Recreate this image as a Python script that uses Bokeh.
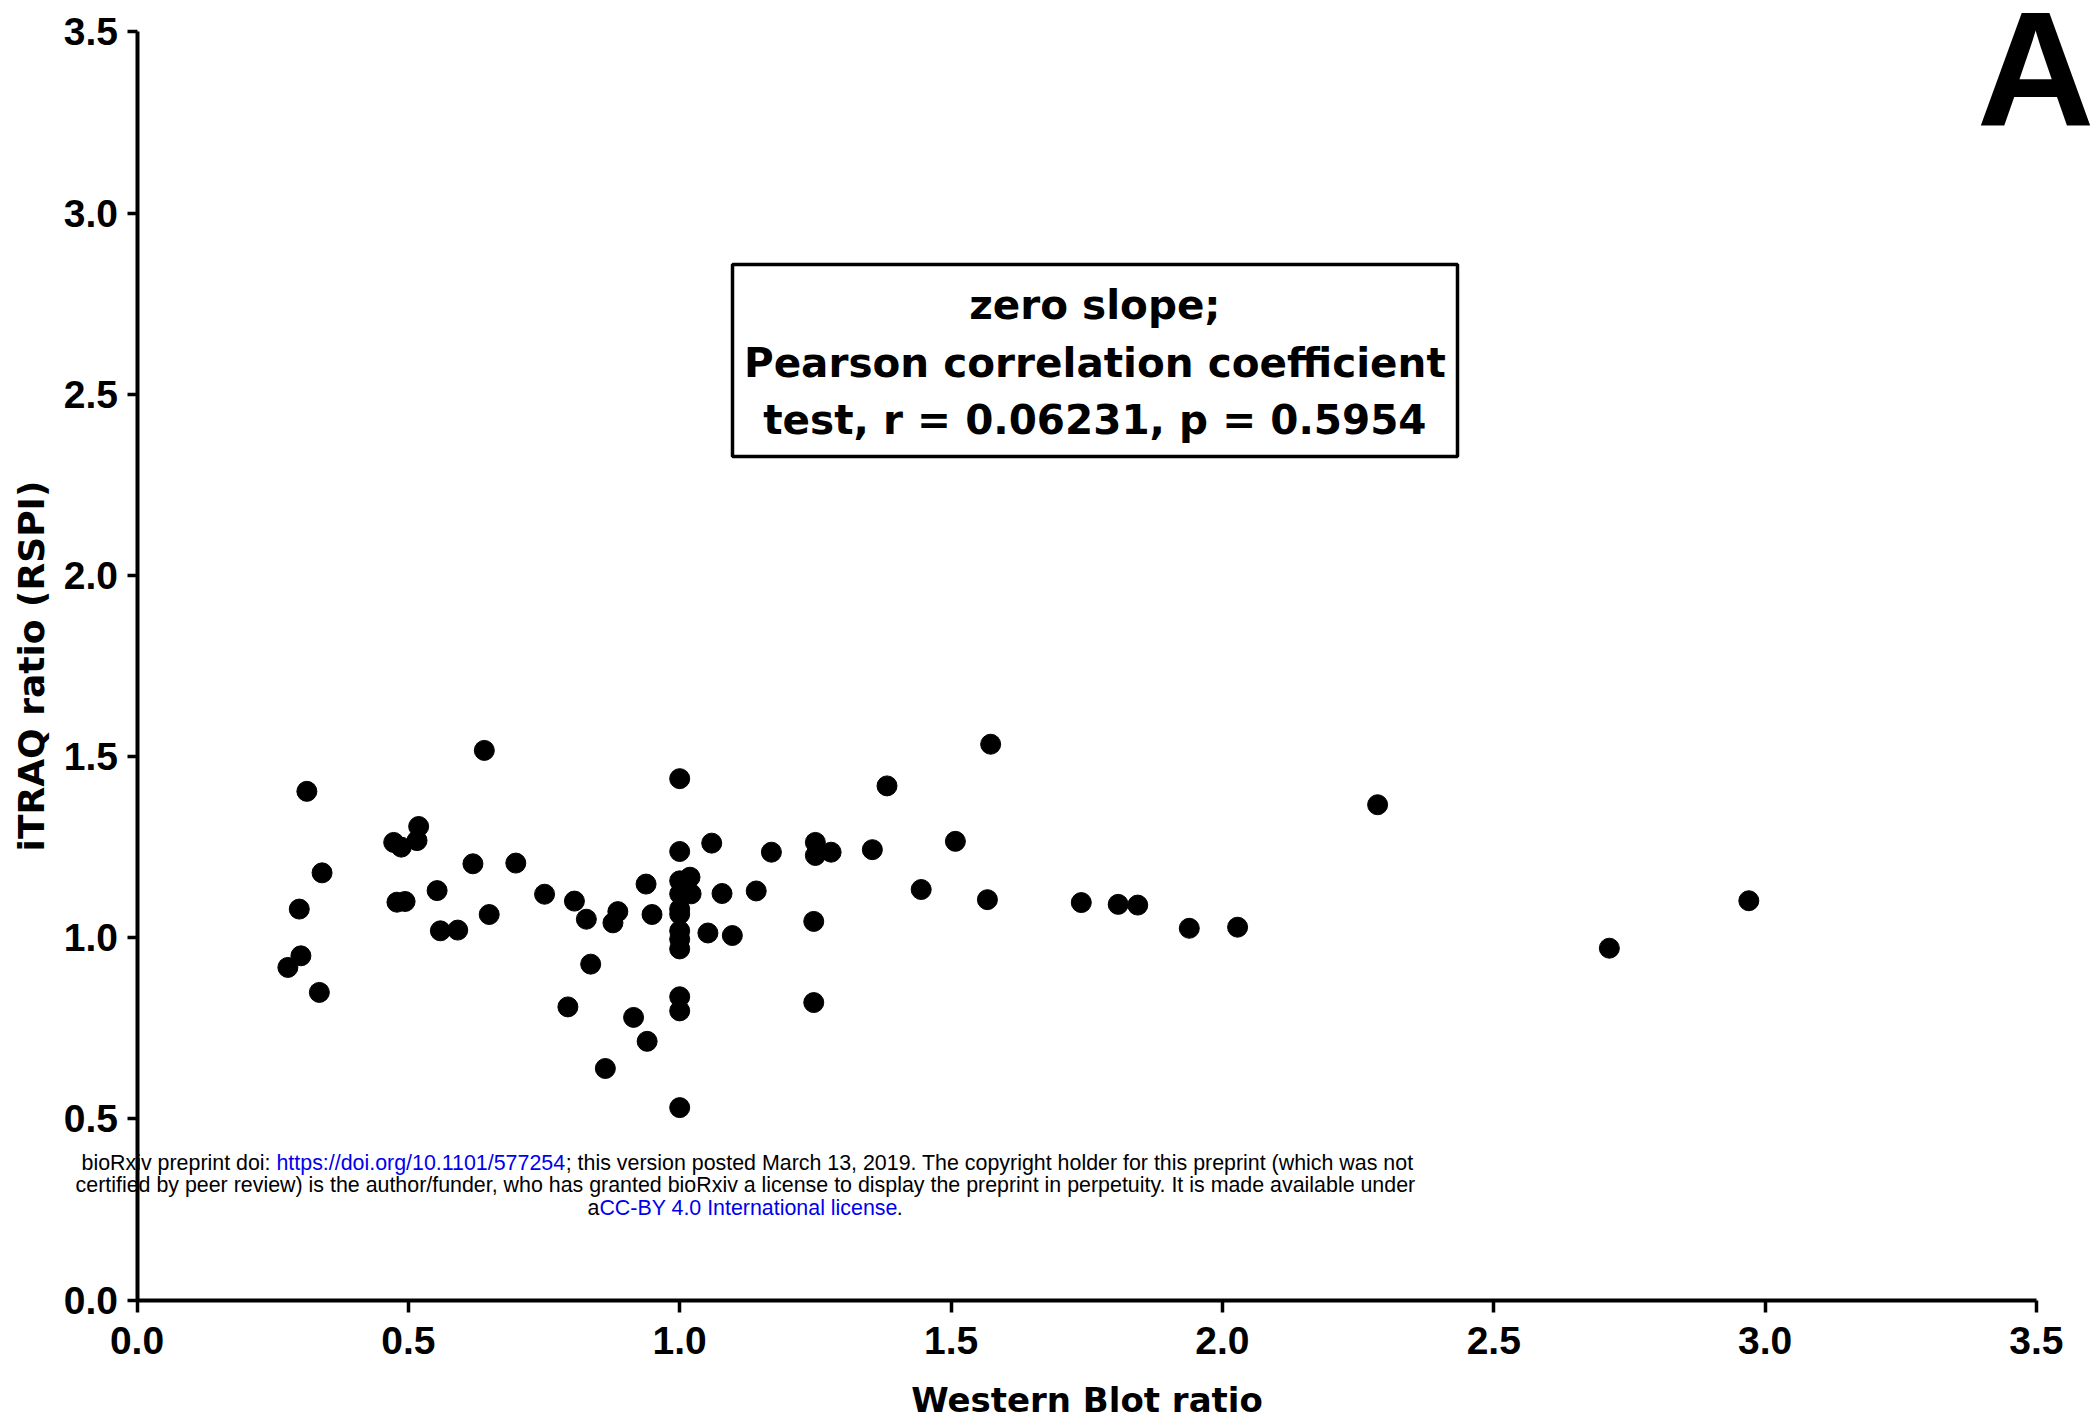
from bokeh.plotting import figure
from bokeh.models import Range1d, FixedTicker, NumeralTickFormatter, Label, BoxAnnotation
from bokeh.embed import file_html
from bokeh.resources import INLINE

# ---- data ----
western_blot_ratio = [0.313, 0.640, 0.341, 0.299, 0.302, 0.278, 0.336,
                      0.473, 0.487, 0.516, 0.519,
                      0.479, 0.494,
                      0.553, 0.619, 0.698,
                      0.559, 0.591, 0.649,
                      0.751, 0.806, 0.828, 0.886, 0.877,
                      0.938, 0.949, 0.836, 0.794, 0.915, 0.940, 0.863,
                      1.0, 1.0, 1.0, 1.0, 1.0, 1.0, 1.0, 1.0, 1.0, 1.0, 1.0, 1.0,
                      1.019, 1.021, 1.059, 1.078, 1.052, 1.097,
                      1.141, 1.169, 1.250, 1.250, 1.279, 1.247, 1.247,
                      1.355, 1.382, 1.445, 1.508, 1.573, 1.567,
                      1.740, 1.808, 1.844, 1.939, 2.028, 2.286, 2.713, 2.970]

itraq_ratio = [1.404, 1.517, 1.179, 1.079, 0.950, 0.918, 0.849,
               1.263, 1.250, 1.268, 1.307,
               1.098, 1.100,
               1.130, 1.204, 1.206,
               1.019, 1.021, 1.064,
               1.120, 1.101, 1.051, 1.072, 1.041,
               1.148, 1.064, 0.927, 0.809, 0.780, 0.714, 0.639,
               1.439, 1.238, 1.157, 1.121, 1.079, 1.065, 1.019, 0.996, 0.969, 0.837, 0.798, 0.531,
               1.167, 1.121, 1.261, 1.122, 1.013, 1.006,
               1.129, 1.236, 1.263, 1.227, 1.236, 1.045, 0.821,
               1.243, 1.419, 1.133, 1.266, 1.534, 1.105,
               1.097, 1.092, 1.090, 1.026, 1.029, 1.367, 0.971, 1.102]

tick_values = [0.0, 0.5, 1.0, 1.5, 2.0, 2.5, 3.0, 3.5]
axis_span = (0.0, 3.5)

x_title = "Western Blot ratio"
y_title = "iTRAQ ratio (RSPI)"
stats_lines = ["zero slope;",
               "Pearson correlation coefficient",
               "test, r = 0.06231, p = 0.5954"]
panel_letter = "A"

# ---- layout: the frame fills the canvas, axes sit at x=0 / y=0 ----
W, H = 2098, 1428
X0_PX, PX_PER_X = 136.5, 542.7      # pixel of x=0, pixels per x unit
Y0_PX, PX_PER_Y = 1299.5, 362.3     # pixel of y=0, pixels per y unit

p = figure(width=W, height=H, output_backend="svg", toolbar_location=None,
           x_range=Range1d(-X0_PX / PX_PER_X, (W - X0_PX) / PX_PER_X),
           y_range=Range1d(-(H - Y0_PX) / PX_PER_Y, Y0_PX / PX_PER_Y),
           min_border_left=0, min_border_right=0,
           min_border_top=0, min_border_bottom=0)
p.outline_line_color = None
p.xgrid.visible = False
p.ygrid.visible = False
p.background_fill_color = "white"
p.border_fill_color = "white"

for ax in (p.xaxis[0], p.yaxis[0]):
    ax.ticker = FixedTicker(ticks=tick_values)
    ax.formatter = NumeralTickFormatter(format="0.0")
    ax.bounds = axis_span
    ax.fixed_location = 0
    ax.axis_line_width = 4
    ax.axis_line_color = "black"
    ax.major_tick_line_width = 3.5
    ax.major_tick_line_color = "black"
    ax.major_tick_in = 0
    ax.minor_tick_line_color = None
    ax.major_label_text_font = "Liberation Sans"
    ax.major_label_text_font_style = "bold"
    ax.major_label_text_font_size = "39px"
    ax.major_label_text_color = "black"
    ax.axis_label_text_font = "DejaVu Sans"
    ax.axis_label_text_font_style = "bold"
    ax.axis_label_text_color = "black"

p.xaxis[0].axis_label = x_title
p.xaxis[0].axis_label_text_font_size = "34px"
p.xaxis[0].major_tick_out = 12
p.xaxis[0].major_label_standoff = 15
p.xaxis[0].axis_label_standoff = 22

p.yaxis[0].axis_label = y_title
p.yaxis[0].axis_label_text_font_size = "36px"
p.yaxis[0].major_tick_out = 10
p.yaxis[0].major_label_standoff = 9
p.yaxis[0].axis_label_standoff = 9

p.scatter(western_blot_ratio, itraq_ratio, size=20, marker="circle",
          fill_color="black", line_color="black")

# statistics box
box = BoxAnnotation(left=1.0973, right=2.4332, top=2.858, bottom=2.328,
                    fill_color="white", fill_alpha=1.0,
                    line_color="black", line_alpha=1.0, line_width=3.5,
                    level="overlay")
p.add_layout(box)
for txt, yb in zip(stats_lines, [2.747, 2.587, 2.429]):
    p.add_layout(Label(x=1.765, y=yb, text=txt, text_align="center",
                       text_baseline="alphabetic", text_font="DejaVu Sans",
                       text_font_style="bold", text_font_size="40.5px",
                       text_color="black", level="overlay"))

# panel letter (kept just inside the right edge)
p.add_layout(Label(x=3.390, y=3.396, text=panel_letter, text_align="left",
                   text_baseline="alphabetic", text_font="Liberation Sans",
                   text_font_style="bold", text_font_size="163px",
                   text_color="black", level="overlay"))

# bioRxiv notice
wm_font = "21.4px"
blue = "#0000ee"
def wm(x, y, t, align, color="black"):
    p.add_layout(Label(x=x, y=y, text=t, text_align=align, text_baseline="alphabetic",
                       text_font="Liberation Sans", text_font_size=wm_font,
                       text_color=color, level="overlay"))

wm(0.257, 0.377, "bioRxiv preprint doi: ", "right")
wm(0.257, 0.377, "https://doi.org/10.1101/577254", "left", blue)
wm(0.790, 0.377, "; this version posted March 13, 2019. The copyright holder for this preprint (which was not", "left")
wm(1.121, 0.318, "certified by peer review) is the author/funder, who has granted bioRxiv a license to display the preprint in perpetuity. It is made available under", "center")
wm(0.852, 0.254, "a", "right")
wm(0.852, 0.254, "CC-BY 4.0 International license", "left", blue)
wm(1.400, 0.254, ".", "left")

open("out.html", "w").write(file_html(p, INLINE))
